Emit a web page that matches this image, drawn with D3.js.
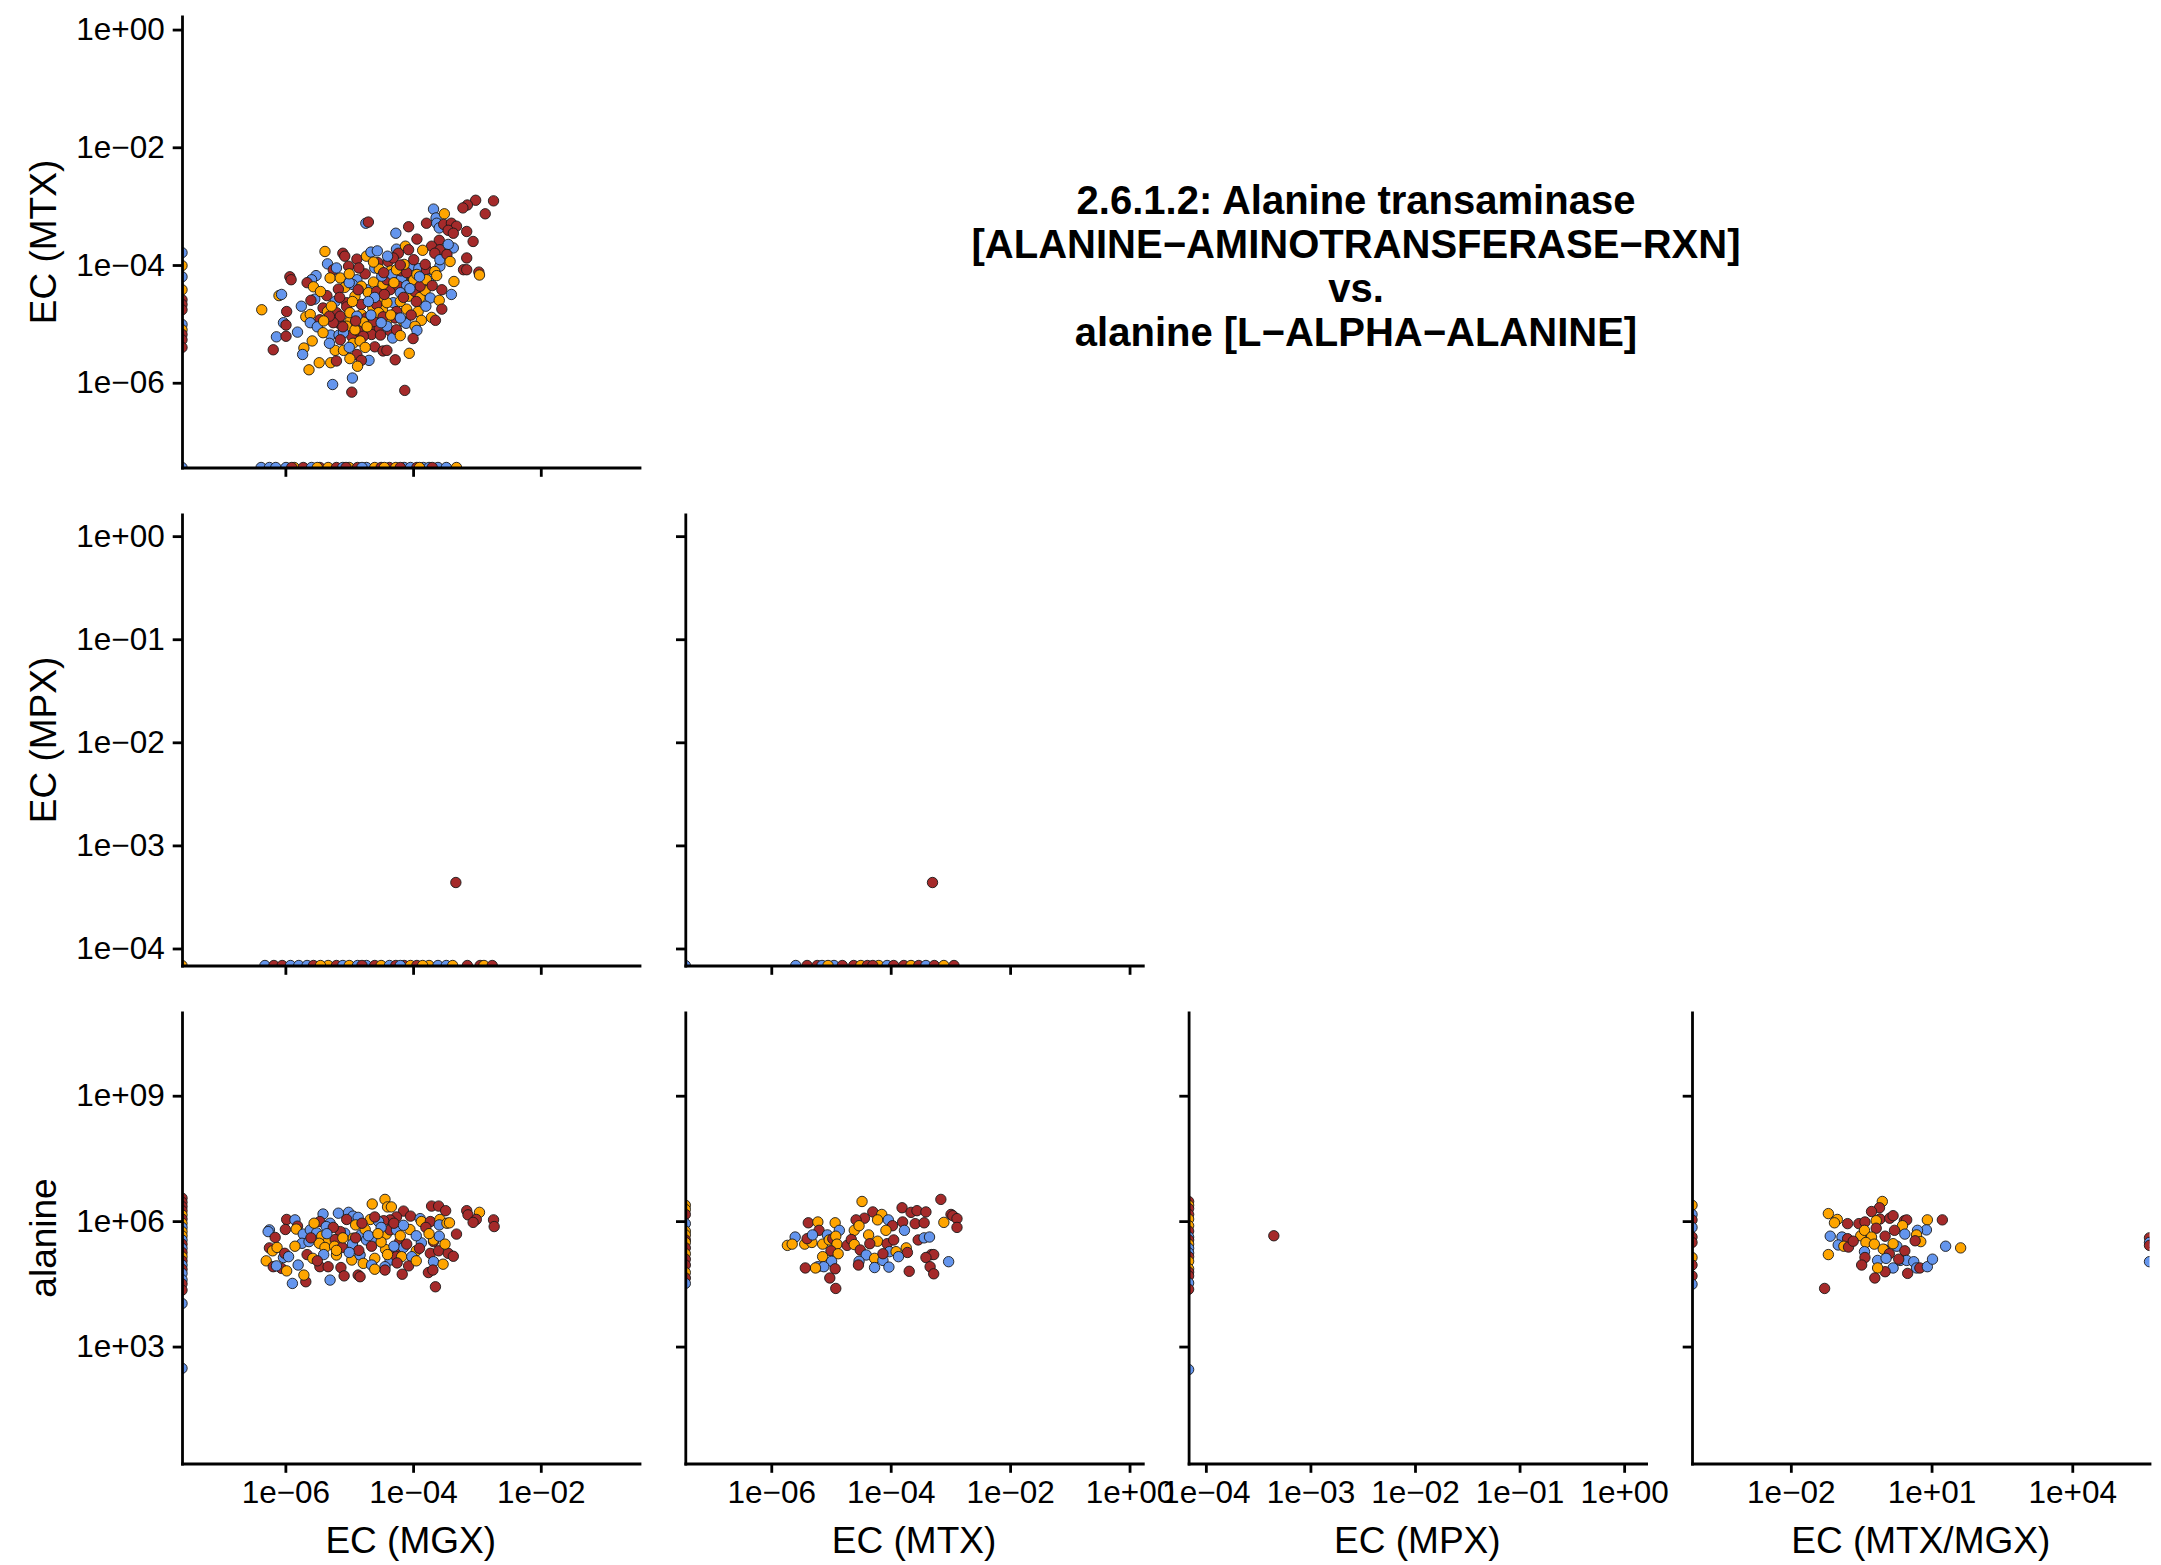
<!DOCTYPE html>
<html><head><meta charset="utf-8">
<script src="https://cdn.jsdelivr.net/npm/d3@7"></script>
<style>html,body{margin:0;padding:0;background:#fff;} svg{display:block;}</style>
</head><body><svg id="chart" width="2161" height="1565"></svg>
<script>
// ---------------- DATA (log10 values; Z = zero abundance -> -Inf, INF = +Inf) ----------------
const Z = -Infinity, INF = Infinity;
const groupNames = ["group1", "group2", "group3"];
const groupColors = ["#6495ED", "#FFA500", "#A52A2A"];

const titleLines = ["2.6.1.2: Alanine transaminase", "[ALANINE\u2212AMINOTRANSFERASE\u2212RXN]", "vs.", "alanine [L\u2212ALPHA\u2212ALANINE]"];
const axisNames = {mgx: "EC (MGX)", mtx: "EC (MTX)", mpx: "EC (MPX)", ratio: "EC (MTX/MGX)", ala: "alanine"};

const mgxTicks = [1e-6, 1e-4, 1e-2];
const mgxTickLabels = ["1e\u221206", "1e\u221204", "1e\u221202"];
const mtxTicks = [1e-6, 1e-4, 1e-2, 1e0];
const mtxTickLabels = ["1e\u221206", "1e\u221204", "1e\u221202", "1e+00"];
const mpxTicks = [1e-4, 1e-3, 1e-2, 1e-1, 1e0];
const mpxTickLabels = ["1e\u221204", "1e\u221203", "1e\u221202", "1e\u221201", "1e+00"];
const ratioTicks = [1e-2, 1e1, 1e4];
const ratioTickLabels = ["1e\u221202", "1e+01", "1e+04"];
const alaTicks = [1e3, 1e6, 1e9];
const alaTickLabels = ["1e+03", "1e+06", "1e+09"];

// [log10 MGX, log10 MTX, group]
const mtxVsMgx = [
[-2.74,-2.91,2],[-3.02,-2.90,2],[-3.15,-2.98,2],[-3.22,-3.03,2],[-2.87,-3.13,2],
[-3.68,-3.05,0],[-3.64,-3.20,0],[-3.51,-3.13,1],[-4.74,-3.29,0],[-4.70,-3.27,2],
[-4.07,-3.35,2],[-3.79,-3.29,2],[-3.63,-3.29,0],[-3.59,-3.37,0],[-3.52,-3.31,2],
[-3.40,-3.29,2],[-3.32,-3.34,2],[-3.45,-3.41,2],[-3.37,-3.46,2],[-3.16,-3.43,2],
[-4.27,-3.46,0],[-3.94,-3.56,2],[-3.59,-3.58,2],[-3.71,-3.68,2],[-3.58,-3.74,2],
[-3.66,-3.80,2],[-3.06,-3.60,2],[-3.37,-3.71,0],[-3.45,-3.65,0],[-5.38,-3.77,1],
[-5.10,-3.80,2],[-5.07,-3.85,2],[-4.88,-3.90,2],[-4.73,-3.85,1],[-4.66,-3.78,0],
[-4.56,-3.76,0],[-4.26,-3.73,0],[-4.12,-3.68,1],[-4.23,-3.80,2],[-4.07,-3.74,2],
[-3.85,-3.75,1],[-3.16,-3.88,2],[-5.34,-3.98,0],[-5.01,-4.02,2],[-5.25,-4.08,2],
[-5.52,-4.18,0],[-5.59,-4.25,0],[-5.93,-4.20,2],[-5.91,-4.25,2],[-5.66,-4.30,2],
[-5.56,-4.37,1],[-5.30,-4.22,1],[-5.14,-4.22,1],[-4.55,-3.96,2],[-4.60,-4.05,0],
[-4.53,-4.07,1],[-4.39,-3.94,2],[-4.31,-3.88,2],[-4.35,-4.10,1],[-4.18,-4.22,0],
[-4.19,-4.10,2],[-4.05,-4.02,0],[-3.91,-4.06,0],[-4.01,-4.22,2],[-3.79,-4.08,2],
[-3.58,-4.02,0],[-3.66,-4.11,1],[-3.21,-4.08,2],[-3.16,-4.08,2],[-2.97,-4.12,2],
[-2.96,-4.17,1],[-3.36,-4.28,1],[-4.88,-4.25,0],[-4.95,-4.33,0],[-5.07,-4.38,1],
[-5.17,-4.41,2],[-4.73,-4.42,0],[-4.62,-4.29,1],[-4.44,-4.29,0],[-4.36,-4.42,2],
[-4.23,-4.36,2],[-4.10,-4.35,0],[-3.99,-4.25,1],[-3.75,-4.24,0],[-3.63,-4.18,1],
[-6.10,-4.52,1],[-6.06,-4.50,0],[-5.54,-4.58,0],[-5.35,-4.52,2],[-5.22,-4.62,0],
[-4.91,-4.53,1],[-5.04,-4.64,2],[-4.65,-4.57,1],[-4.49,-4.58,1],[-4.20,-4.47,0],
[-4.07,-4.53,1],[-3.97,-4.45,2],[-3.89,-4.55,1],[-3.81,-4.43,1],[-3.73,-4.56,0],
[-3.59,-4.60,1],[-6.37,-4.76,1],[-5.98,-4.79,2],[-5.41,-4.73,2],[-5.04,-4.71,2],
[-4.81,-4.67,2],[-4.63,-4.73,1],[-4.48,-4.76,1],[-4.31,-4.64,0],[-4.10,-4.75,1],
[-3.92,-4.79,1],[-4.26,-4.79,2],[-5.68,-4.88,1],[-5.61,-4.84,1],[-5.46,-4.93,2],
[-5.20,-4.81,2],[-4.81,-4.84,1],[-4.73,-4.90,2],[-4.41,-4.94,1],[-4.15,-4.96,1],
[-4.11,-4.99,0],[-3.87,-4.94,1],[-3.71,-4.89,1],[-3.65,-4.94,2],[-4.28,-4.90,2],
[-6.03,-4.98,0],[-5.99,-5.02,2],[-5.61,-4.98,0],[-5.50,-5.05,0],[-5.16,-4.99,2],
[-4.99,-4.96,1],[-4.88,-5.04,0],[-4.78,-4.97,1],[-4.67,-5.10,2],[-4.53,-5.07,2],
[-4.36,-5.12,2],[-3.97,-5.04,1],[-3.94,-5.11,0],[-6.14,-5.22,0],[-5.99,-5.21,2],
[-5.81,-5.14,0],[-5.58,-5.29,1],[-5.29,-5.19,0],[-5.16,-5.19,0],[-4.96,-5.21,2],
[-4.94,-5.33,1],[-4.65,-5.18,2],[-4.51,-5.19,2],[-4.32,-5.24,0],[-6.19,-5.44,2],
[-5.71,-5.41,1],[-5.73,-5.52,0],[-5.22,-5.45,1],[-5.09,-5.45,1],[-5.31,-5.33,0],
[-4.88,-5.52,2],[-4.60,-5.39,2],[-4.47,-5.46,2],[-4.41,-5.45,2],[-4.06,-5.50,1],
[-5.63,-5.78,1],[-5.47,-5.66,1],[-5.29,-5.66,1],[-5.20,-5.63,2],[-4.99,-5.59,1],
[-4.69,-5.62,0],[-4.81,-5.62,2],[-4.87,-5.72,1],[-4.28,-5.61,2],[-5.26,-6.03,0],
[-4.95,-5.92,0],[-4.96,-6.16,2],[-4.13,-6.13,2],
[-4.81,-4.36,1],[-4.86,-4.42,2],[-4.70,-4.47,1],[-4.57,-4.45,2],[-4.47,-4.33,1],
[-4.41,-4.25,2],[-4.33,-4.16,0],[-4.10,-4.13,2],[-3.94,-4.16,1],[-3.89,-4.36,2],
[-4.20,-4.62,1],[-4.57,-4.67,2],[-4.41,-4.64,1],[-5.14,-4.87,2],[-4.99,-4.81,1],
[-4.88,-4.87,0],[-5.04,-5.04,1],[-4.86,-5.12,2],[-4.78,-5.21,2],[-4.91,-5.10,1],
[-5.09,-5.15,0],[-5.25,-4.98,2],[-5.34,-4.79,1],[-5.31,-4.87,2],[-4.49,-4.19,0],
[-4.26,-4.08,1],[-4.46,-4.13,2],[-3.79,-4.25,1],[-3.55,-4.42,2],[-3.81,-3.99,2],
[-4.14,-3.99,1],[-3.99,-3.91,2],[-3.58,-3.91,0],[-3.47,-3.82,2],[-3.42,-3.94,1],
[-4.62,-4.96,2],[-4.54,-4.81,1],[-4.41,-5.04,0],[-4.26,-5.10,2],[-4.83,-5.29,1],
[-5.14,-5.27,2],[-5.41,-5.15,1],
[-5.00,-4.30,0],[-4.75,-4.15,2],[-4.60,-4.55,0],[-4.45,-4.50,2],[-4.30,-4.30,1],
[-4.15,-4.55,2],[-4.05,-4.40,0],[-3.95,-4.62,2],[-4.70,-4.62,0],[-4.95,-4.62,1],
[-5.15,-4.55,2],[-5.28,-4.70,1],[-4.90,-4.95,2],[-4.66,-4.85,0],[-4.47,-4.88,2],
[-4.35,-4.85,1],[-4.20,-4.90,0],[-4.03,-4.85,2],[-3.80,-4.70,0],[-3.70,-4.35,2],
[-3.90,-4.20,0],[-4.20,-4.00,2],[-4.40,-3.85,0],[-4.62,-3.95,1],[-4.85,-4.05,2],
[-5.00,-4.15,1],[-5.20,-4.05,0],[-5.45,-4.45,1],[-5.60,-4.60,2],[-5.75,-4.70,0],
[-5.40,-4.95,1],[-5.10,-5.05,2],[-4.72,-5.05,1],[-4.50,-4.98,0],[-4.20,-5.20,1],
[-4.00,-5.25,2],[-5.00,-5.40,0],[-4.75,-5.40,1],[-3.55,-4.75,2],[-3.40,-4.50,0],
[Z,-3.79,0],[Z,-4.01,1],[Z,-4.20,0],[Z,-4.42,1],[Z,-4.59,2],[Z,-4.67,2],[Z,-4.76,2],
[Z,-5.01,0],[Z,-5.10,1],[Z,-5.18,2],[Z,-5.27,2],[Z,-5.40,2],
[-6.38,Z,0],[-6.25,Z,0],[-6.15,Z,0],[-5.99,Z,0],[-5.86,Z,1],[-5.72,Z,2],[-5.59,Z,0],
[-5.46,Z,2],[-5.33,Z,1],[-5.20,Z,2],[-5.10,Z,0],[-5.00,Z,1],[-4.87,Z,2],[-4.73,Z,0],
[-4.60,Z,1],[-4.50,Z,2],[-4.37,Z,2],[-4.27,Z,1],[-4.14,Z,0],[-4.04,Z,0],[-3.94,Z,2],
[-3.84,Z,0],[-3.75,Z,0],[-3.61,Z,0],[-3.48,Z,0],[-3.32,Z,1],[-5.90,Z,2],[-5.50,Z,1],
[-5.05,Z,2],[-4.80,Z,0],[-4.45,Z,1],[-4.20,Z,2],[-3.90,Z,1],[-3.70,Z,2],
[Z,Z,0]
];

// [log10 MGX, log10 MPX, group]
const mpxVsMgx = [
[-6.32,Z,0],[-6.18,Z,2],[-6.05,Z,2],[-5.92,Z,0],[-5.79,Z,0],[-5.66,Z,0],[-5.56,Z,2],
[-5.33,Z,1],[-5.20,Z,2],[-5.10,Z,0],[-5.00,Z,1],[-4.87,Z,0],[-4.73,Z,0],[-4.60,Z,2],
[-4.50,Z,1],[-4.37,Z,0],[-4.27,Z,2],[-4.14,Z,2],[-4.04,Z,1],[-3.94,Z,2],[-3.75,Z,1],
[-3.61,Z,0],[-3.48,Z,0],[-3.38,Z,1],[-3.15,Z,2],[-2.95,Z,2],[-2.89,Z,1],[-2.76,Z,2],
[-5.45,Z,1],[-4.80,Z,2],[-4.20,Z,0],[-3.85,Z,1],
[Z,Z,1],
[-3.33,-3.36,2]
];

// [log10 MTX, log10 MPX, group]
const mpxVsMtx = [
[-5.59,Z,0],[-5.40,Z,2],[-5.23,Z,2],[-5.15,Z,0],[-4.95,Z,0],[-4.81,Z,2],[-4.62,Z,2],
[-4.50,Z,1],[-4.39,Z,2],[-4.20,Z,1],[-4.06,Z,0],[-3.95,Z,2],[-3.78,Z,2],[-3.66,Z,1],
[-3.53,Z,2],[-3.41,Z,0],[-3.27,Z,2],[-3.11,Z,1],[-2.94,Z,2],[-5.05,Z,1],[-4.30,Z,2],
[Z,Z,0],
[-3.30,-3.36,2]
];

// [log10 MGX, log10 alanine, group]
const alaVsMgx = [
[-4.64,6.41,1],[-4.44,6.52,1],[-4.40,6.34,1],[-4.34,6.34,1],[-3.16,6.25,2],
[-3.14,6.15,2],[-2.96,6.21,1],[-3.01,6.04,2],[-3.06,5.97,2],[-2.74,6.03,2],
[-2.73,5.87,2],[-3.71,6.36,2],[-3.60,6.36,2],[-3.49,6.25,2],[-4.15,6.24,2],
[-4.04,6.12,2],[-4.26,6.10,2],[-4.36,6.03,2],[-4.46,6.01,2],[-4.67,6.04,1],
[-4.54,5.99,0],[-4.60,6.10,2],[-3.89,6.06,0],[-3.87,5.99,1],[-3.73,5.99,2],
[-3.58,6.04,1],[-3.59,5.91,0],[-3.47,5.95,1],[-3.43,5.96,1],[-5.41,6.17,0],
[-5.17,6.19,0],[-5.01,6.21,0],[-4.94,6.12,0],[-4.86,6.09,0],[-5.04,6.04,2],
[-5.30,5.95,0],[-4.90,5.91,1],[-5.46,5.99,2],[-5.36,5.87,0],[-5.98,6.04,2],
[-5.85,6.03,0],[-5.81,5.88,2],[-5.83,5.81,1],[-6.25,5.79,0],[-6.27,5.75,0],
[-6.00,5.80,2],[-6.16,5.61,2],[-5.72,5.69,0],[-5.61,5.79,0],[-5.51,5.72,0],
[-5.43,5.64,1],[-5.07,5.71,0],[-4.94,5.59,1],[-4.82,5.67,0],[-5.14,5.75,2],
[-5.33,5.51,1],[-5.22,5.56,2],[-6.25,5.36,2],[-6.20,5.29,1],[-6.13,5.37,1],
[-6.03,5.13,0],[-6.01,5.23,2],[-6.30,5.05,1],[-6.19,4.91,2],[-6.06,4.87,2],
[-5.98,4.81,1],[-6.14,4.93,0],[-5.74,5.47,0],[-5.63,5.51,0],[-5.47,5.47,1],
[-5.38,5.37,1],[-5.23,5.40,1],[-5.11,5.37,2],[-5.20,5.19,1],[-5.66,5.20,2],
[-5.57,5.11,1],[-5.80,4.95,0],[-5.68,4.55,2],[-5.89,4.51,0],[-5.71,4.71,1],
[-5.46,4.91,2],[-5.33,4.91,2],[-5.13,4.89,2],[-4.96,5.07,1],[-5.08,4.69,2],
[-5.30,4.59,0],[-4.86,4.71,2],[-4.83,4.67,2],[-4.73,5.55,0],[-4.62,5.61,0],
[-4.42,5.69,1],[-4.36,5.79,2],[-4.26,5.79,0],[-4.21,5.51,2],[-4.43,5.32,1],
[-4.29,5.32,2],[-4.15,5.37,0],[-3.95,5.29,1],[-3.87,5.48,0],[-3.68,5.51,2],
[-3.68,5.55,1],[-3.59,5.64,0],[-3.32,5.69,2],[-4.83,5.19,0],[-4.60,5.11,1],
[-4.36,5.07,0],[-4.26,5.15,2],[-4.18,5.15,1],[-4.02,5.15,0],[-4.78,4.99,1],
[-4.65,4.95,0],[-4.44,4.91,0],[-4.07,4.93,2],[-4.17,4.73,2],[-4.44,4.83,2],
[-3.73,5.23,2],[-3.60,5.29,2],[-3.45,5.23,2],[-3.37,5.16,2],[-3.68,5.03,0],
[-3.53,4.97,1],[-3.76,4.77,2],[-3.69,4.83,2],[-3.65,4.43,2],
[-4.75,5.80,1],[-4.50,5.85,0],[-4.30,5.95,2],[-4.05,5.80,1],[-3.95,5.65,0],
[-4.65,5.40,2],[-4.50,5.50,1],[-4.95,5.45,0],[-5.10,5.60,1],[-5.25,5.85,2],
[-5.55,5.95,1],[-4.85,5.30,2],[-4.20,5.65,1],[-3.80,5.85,2],[-5.00,5.25,0],
[-4.40,5.20,1],[-5.40,5.20,0],[-3.50,5.45,1],[-4.10,5.45,2],[-4.70,5.65,0],
[-5.60,5.60,2],[-5.20,5.30,1],[-4.90,5.60,2],[-4.55,5.70,1],[-4.30,5.40,0],
[-3.90,5.35,2],[-3.75,5.70,1],[-4.15,5.90,0],[-4.80,5.95,2],[-5.35,5.70,0],
[-5.85,5.40,1],[-5.95,5.15,0],[-5.50,5.05,2],[-4.60,4.85,1],[-4.25,5.00,2],
[-3.95,5.05,1],
[Z,6.55,2],[Z,6.45,2],[Z,6.35,2],[Z,6.25,2],[Z,6.15,1],[Z,6.05,2],[Z,5.95,1],
[Z,5.85,0],[Z,5.75,1],[Z,5.65,1],[Z,5.55,0],[Z,5.45,2],[Z,5.35,0],[Z,5.25,2],
[Z,5.15,1],[Z,5.05,2],[Z,4.95,0],[Z,4.85,2],[Z,4.75,0],[Z,4.60,0],[Z,4.50,2],
[Z,4.35,2],[Z,4.03,0],[Z,2.48,0]
];

// [log10 MTX, log10 alanine, group]
const alaVsMtx = [
[-4.48,6.47,1],[-3.16,6.52,2],[-3.81,6.32,2],[-3.66,6.21,2],[-3.56,6.25,2],
[-3.41,6.22,2],[-2.99,6.16,2],[-2.96,6.13,2],[-2.89,6.06,2],[-3.11,5.97,1],
[-2.89,5.85,2],[-4.30,6.22,2],[-4.15,6.16,1],[-4.44,6.07,2],[-4.58,6.03,2],
[-4.22,6.03,1],[-4.04,6.03,0],[-3.97,5.89,2],[-3.80,5.98,2],[-3.77,5.78,0],
[-3.59,5.94,2],[-3.44,5.96,2],[-5.38,5.96,2],[-5.22,5.98,1],[-4.93,5.96,1],
[-4.86,5.78,0],[-5.20,5.78,2],[-4.61,5.78,1],[-4.53,5.89,1],[-4.37,5.67,1],
[-4.08,5.78,1],[-5.60,5.62,0],[-5.73,5.42,1],[-5.65,5.45,1],[-5.44,5.45,1],
[-5.32,5.49,1],[-5.40,5.58,2],[-5.31,5.67,0],[-5.14,5.45,1],[-5.06,5.67,0],
[-5.03,5.55,1],[-4.97,5.58,2],[-4.92,5.64,1],[-4.90,5.45,1],[-5.00,5.29,2],
[-4.88,5.22,1],[-4.73,5.42,2],[-4.66,5.56,2],[-4.61,5.44,1],[-4.51,5.31,2],
[-4.41,5.19,0],[-4.22,5.52,1],[-4.35,5.46,2],[-4.06,5.46,2],[-3.95,5.55,2],
[-4.02,5.27,0],[-3.91,5.27,1],[-3.74,5.36,1],[-3.72,5.25,2],[-3.54,5.55,2],
[-3.44,5.60,0],[-3.35,5.62,0],[-3.32,5.20,2],[-3.28,5.20,2],[-3.41,5.13,2],
[-3.03,5.03,0],[-5.14,5.15,1],[-4.99,5.04,0],[-5.22,4.91,0],[-5.12,4.91,0],
[-5.26,4.88,1],[-5.43,4.88,2],[-4.93,4.86,2],[-5.02,4.64,2],[-4.92,4.39,2],
[-4.53,5.04,0],[-4.54,4.95,2],[-4.27,5.11,1],[-4.27,4.89,0],[-4.13,5.06,0],
[-4.13,5.22,2],[-4.03,4.90,0],[-3.87,5.15,0],[-3.69,4.80,2],[-3.34,4.91,2],
[-3.28,4.74,2],
[Z,6.38,1],[Z,6.28,1],[Z,6.16,2],[Z,5.94,0],[Z,5.76,1],[Z,5.67,1],[Z,5.55,2],
[Z,5.49,1],[Z,5.36,2],[Z,5.22,1],[Z,5.09,2],[Z,4.95,2],[Z,4.77,1],[Z,4.64,2],
[Z,4.51,0]
];

// [log10 MPX, log10 alanine, group]
const alaVsMpx = [
[Z,6.47,2],[Z,6.38,1],[Z,6.30,2],[Z,6.16,2],[Z,6.05,1],[Z,5.89,1],[Z,5.76,2],
[Z,5.62,0],[Z,5.55,2],[Z,5.45,1],[Z,5.35,0],[Z,5.24,0],[Z,5.15,2],[Z,5.04,1],
[Z,4.86,1],[Z,4.78,2],[Z,4.69,2],[Z,4.52,0],[Z,4.37,2],[Z,2.45,0],
[-3.35,5.65,2]
];

// [log10 MTX/MGX, log10 alanine, group]
const alaVsRatio = [
[-0.05,6.47,1],[-0.11,6.32,2],[-0.28,6.23,2],[-1.20,6.18,1],[-1.01,6.04,1],
[-1.07,5.96,1],[-0.79,5.94,2],[-0.55,5.94,2],[-0.42,5.98,2],[-0.10,6.05,2],
[0.11,6.07,2],[0.18,6.13,2],[-0.18,6.01,1],[0.42,6.01,2],[0.47,6.03,2],
[0.91,6.03,1],[1.23,6.03,2],[0.38,5.89,1],[0.21,5.78,2],[0.89,5.79,0],
[0.70,5.78,0],[-1.16,5.64,0],[-0.91,5.62,0],[-0.79,5.58,2],[-0.51,5.65,1],
[-0.43,5.78,1],[-0.18,5.83,2],[-0.28,5.62,1],[0.01,5.64,2],[0.43,5.69,0],
[0.68,5.67,1],[0.77,5.51,1],[0.65,5.53,2],[-0.99,5.43,0],[-0.87,5.40,1],
[-0.77,5.38,2],[-0.67,5.52,2],[-0.40,5.49,1],[-0.22,5.45,1],[-0.43,5.27,0],
[-0.42,5.13,2],[0.01,5.31,2],[-0.03,5.33,1],[0.10,5.22,2],[0.26,5.40,0],
[0.43,5.29,2],[0.18,5.46,1],[1.30,5.40,0],[1.62,5.36,1],[-1.20,5.20,1],
[-0.49,4.95,2],[-0.15,5.06,0],[0.03,5.11,0],[0.18,4.88,0],[0.01,4.79,2],
[0.33,5.06,0],[0.47,5.06,0],[0.30,5.09,2],[0.62,5.03,0],[0.68,4.88,0],
[0.75,4.88,2],[0.91,4.91,0],[1.02,5.09,0],[-0.15,4.88,1],[-0.21,4.64,2],
[0.49,4.75,2],[-1.28,4.39,2],
[INF,5.60,2],[INF,5.49,0],[INF,5.42,2],[INF,5.03,0],
[Z,6.38,1],[Z,6.16,0],[Z,6.03,2],[Z,5.85,0],[Z,5.62,2],[Z,5.49,2],[Z,5.13,1],
[Z,4.95,2],[Z,4.69,2],[Z,4.49,0]
];

// ---------------- LAYOUT ----------------
const colX = [182, 685.3, 1188.6, 1692], panelW = 457.5;
const rowY = [16.5, 514.5, 1012.5], panelH = 451;
const logDomains = {mgx: [-7.619, -0.454], mtx: [-7.44, 0.222], mpx: [-4.165, 0.21], ratio: [-4.107, 5.646], ala: [0.203, 10.99]};
const tickSets = {
  mgx: [mgxTicks, mgxTickLabels], mtx: [mtxTicks, mtxTickLabels], mpx: [mpxTicks, mpxTickLabels],
  ratio: [ratioTicks, ratioTickLabels], ala: [alaTicks, alaTickLabels]
};
const panels = [
  {row: 0, col: 0, xv: "mgx", yv: "mtx", data: mtxVsMgx},
  {row: 1, col: 0, xv: "mgx", yv: "mpx", data: mpxVsMgx},
  {row: 1, col: 1, xv: "mtx", yv: "mpx", data: mpxVsMtx},
  {row: 2, col: 0, xv: "mgx", yv: "ala", data: alaVsMgx},
  {row: 2, col: 1, xv: "mtx", yv: "ala", data: alaVsMtx},
  {row: 2, col: 2, xv: "mpx", yv: "ala", data: alaVsMpx},
  {row: 2, col: 3, xv: "ratio", yv: "ala", data: alaVsRatio}
];

const FONT = "'Liberation Sans', Arial, Helvetica, sans-serif";
const svg = d3.select("#chart");
svg.append("rect").attr("width", 2161).attr("height", 1565).attr("fill", "#fff");
const defs = svg.append("defs");

function pos(scale, v) {
  const r = scale.range();
  if (v === -Infinity) return r[0];
  if (v === Infinity) return r[1];
  return scale(Math.pow(10, v));
}

panels.forEach((p, i) => {
  const x0 = colX[p.col], y0 = rowY[p.row];
  const xd = logDomains[p.xv], yd = logDomains[p.yv];
  const x = d3.scaleLog().domain([Math.pow(10, xd[0]), Math.pow(10, xd[1])]).range([x0, x0 + panelW]);
  const y = d3.scaleLog().domain([Math.pow(10, yd[0]), Math.pow(10, yd[1])]).range([y0 + panelH, y0]);

  defs.append("clipPath").attr("id", "clip" + i).append("rect")
    .attr("x", x0).attr("y", y0).attr("width", panelW).attr("height", panelH);

  svg.append("g").attr("clip-path", "url(#clip" + i + ")")
    .selectAll("circle").data(p.data).join("circle")
    .attr("cx", d => pos(x, d[0])).attr("cy", d => pos(y, d[1]))
    .attr("r", 5.2).attr("fill", d => groupColors[d[2]])
    .attr("stroke", "#1a1a1a").attr("stroke-width", 0.9);

  const showX = p.row === 2, showY = p.col === 0;
  const [xt, xl] = tickSets[p.xv];
  const [yt, yl] = tickSets[p.yv];
  const xAxis = d3.axisBottom(x).tickValues(xt).tickSize(9.3).tickSizeOuter(0).tickPadding(8)
    .tickFormat((d, k) => showX ? xl[k] : "");
  const yAxis = d3.axisLeft(y).tickValues(yt).tickSize(9.3).tickSizeOuter(0).tickPadding(8)
    .tickFormat((d, k) => showY ? yl[k] : "");

  const gx = svg.append("g").attr("transform", `translate(0,${y0 + panelH})`).call(xAxis);
  const gy = svg.append("g").attr("transform", `translate(${x0},0)`).call(yAxis);
  [gx, gy].forEach(g => {
    g.select(".domain").attr("stroke", "#000").attr("stroke-width", 2.8).attr("stroke-linecap", "square");
    g.selectAll(".tick line").attr("stroke", "#000").attr("stroke-width", 2.8);
    g.selectAll(".tick text").attr("fill", "#000").style("font-family", FONT).style("font-size", "31.5px");
  });

  if (showX) {
    svg.append("text").attr("x", x0 + panelW / 2).attr("y", 1553)
      .attr("text-anchor", "middle").style("font-family", FONT).style("font-size", "37px")
      .text(axisNames[p.xv]);
  }
  if (showY) {
    svg.append("text").attr("transform", `translate(56,${y0 + panelH / 2}) rotate(-90)`)
      .attr("text-anchor", "middle").style("font-family", FONT).style("font-size", "37px")
      .text(axisNames[p.yv]);
  }
});

svg.append("g").selectAll("text").data(titleLines).join("text")
  .attr("x", 1356).attr("y", (d, k) => 214 + 44 * k)
  .attr("text-anchor", "middle").style("font-family", FONT).style("font-size", "40px")
  .style("font-weight", "bold").text(d => d);
</script></body></html>
